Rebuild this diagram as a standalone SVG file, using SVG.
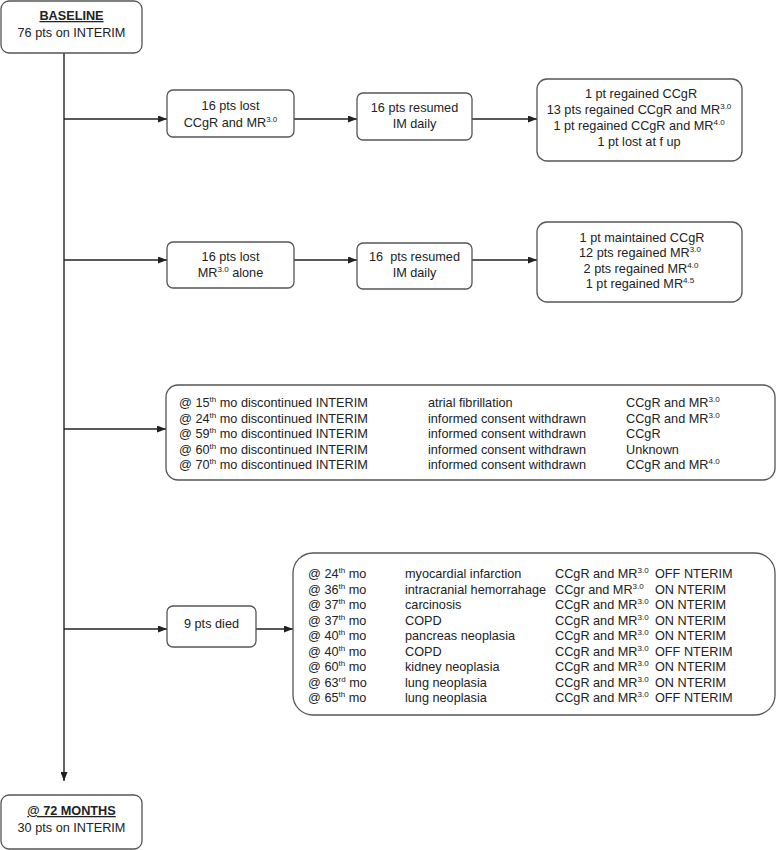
<svg xmlns="http://www.w3.org/2000/svg" width="778" height="850" viewBox="0 0 778 850">
<defs>
<style>
.box{fill:#fff;stroke:#555;stroke-width:1.3}
.t{font-family:"Liberation Sans",Arial,sans-serif;font-size:12.7px;fill:#222}
.c{text-anchor:middle}
.b{font-weight:bold;text-decoration:underline}
.s{font-size:8px}
.ln{stroke:#222;stroke-width:1.4;fill:none}
</style>
<marker id="ah" markerUnits="userSpaceOnUse" markerWidth="9" markerHeight="7" refX="9" refY="3.5" orient="auto">
<path d="M0,0 L9,3.5 L0,7 z" fill="#222"/>
</marker>
</defs>
<rect width="778" height="850" fill="#fff"/>

<g id="connectors">
<line class="ln" x1="64" y1="53" x2="64" y2="781" marker-end="url(#ah)"/>
<line class="ln" x1="64" y1="119" x2="167" y2="119" marker-end="url(#ah)"/>
<line class="ln" x1="294" y1="119" x2="357" y2="119" marker-end="url(#ah)"/>
<line class="ln" x1="472" y1="119" x2="537" y2="119" marker-end="url(#ah)"/>
<line class="ln" x1="64" y1="260" x2="167" y2="260" marker-end="url(#ah)"/>
<line class="ln" x1="294" y1="260" x2="357" y2="260" marker-end="url(#ah)"/>
<line class="ln" x1="472" y1="260" x2="537" y2="260" marker-end="url(#ah)"/>
<line class="ln" x1="64" y1="429" x2="166" y2="429" marker-end="url(#ah)"/>
<line class="ln" x1="64" y1="629" x2="167" y2="629" marker-end="url(#ah)"/>
<line class="ln" x1="256" y1="629" x2="293" y2="629" marker-end="url(#ah)"/>
</g>

<g id="baseline">
<rect class="box" x="1" y="1" width="141" height="52" rx="8"/>
<text class="t c b" x="71.5" y="20">BASELINE</text>
<text class="t c" x="71.5" y="37">76 pts on INTERIM</text>
</g>

<g id="lost-ccgr">
<rect class="box" x="167" y="90" width="127" height="47" rx="6"/>
<text class="t c" x="230.5" y="110">16 pts lost</text>
<text class="t c" x="230.5" y="127">CCgR and MR<tspan class="s" dy="-5">3.0</tspan></text>
</g>

<g id="resumed-1">
<rect class="box" x="357" y="93" width="115" height="47" rx="6"/>
<text class="t c" x="414.5" y="112">16 pts resumed</text>
<text class="t c" x="414.5" y="128">IM daily</text>
</g>

<g id="outcome-1">
<rect class="box" x="537" y="79" width="205" height="82" rx="10"/>
<text class="t c" x="641" y="98">1 pt regained CCgR</text>
<text class="t c" x="639" y="114">13 pts regained CCgR and MR<tspan class="s" dy="-5">3.0</tspan></text>
<text class="t c" x="639" y="130">1 pt regained CCgR and MR<tspan class="s" dy="-5">4.0</tspan></text>
<text class="t c" x="639" y="146">1 pt lost at f up</text>
</g>

<g id="lost-mr">
<rect class="box" x="167" y="242" width="127" height="46" rx="6"/>
<text class="t c" x="230.5" y="261">16 pts lost</text>
<text class="t c" x="230.5" y="277">MR<tspan class="s" dy="-5">3.0</tspan><tspan dy="5"> alone</tspan></text>
</g>

<g id="resumed-2">
<rect class="box" x="357" y="243" width="115" height="46" rx="6"/>
<text class="t c" x="414.5" y="261" xml:space="preserve">16  pts resumed</text>
<text class="t c" x="414.5" y="277">IM daily</text>
</g>

<g id="outcome-2">
<rect class="box" x="537" y="222" width="205" height="80" rx="10"/>
<text class="t c" x="642" y="242">1 pt maintained CCgR</text>
<text class="t c" x="640" y="257">12 pts regained MR<tspan class="s" dy="-5">3.0</tspan></text>
<text class="t c" x="641" y="273">2 pts regained MR<tspan class="s" dy="-5">4.0</tspan></text>
<text class="t c" x="640" y="288">1 pt regained MR<tspan class="s" dy="-5">4.5</tspan></text>
</g>

<g id="discontinued">
<rect class="box" x="166" y="385" width="609" height="95" rx="12"/>
<text class="t" x="179" y="407">@ 15<tspan class="s" dy="-5">th</tspan><tspan dy="5"> mo discontinued INTERIM</tspan></text>
<text class="t" x="179" y="422.5">@ 24<tspan class="s" dy="-5">th</tspan><tspan dy="5"> mo discontinued INTERIM</tspan></text>
<text class="t" x="179" y="438">@ 59<tspan class="s" dy="-5">th</tspan><tspan dy="5"> mo discontinued INTERIM</tspan></text>
<text class="t" x="179" y="453.5">@ 60<tspan class="s" dy="-5">th</tspan><tspan dy="5"> mo discontinued INTERIM</tspan></text>
<text class="t" x="179" y="469">@ 70<tspan class="s" dy="-5">th</tspan><tspan dy="5"> mo discontinued INTERIM</tspan></text>
<text class="t" x="428" y="407">atrial fibrillation</text>
<text class="t" x="428" y="422.5">informed consent withdrawn</text>
<text class="t" x="428" y="438">informed consent withdrawn</text>
<text class="t" x="428" y="453.5">informed consent withdrawn</text>
<text class="t" x="428" y="469">informed consent withdrawn</text>
<text class="t" x="626" y="407">CCgR and MR<tspan class="s" dy="-5">3.0</tspan></text>
<text class="t" x="626" y="422.5">CCgR and MR<tspan class="s" dy="-5">3.0</tspan></text>
<text class="t" x="626" y="438">CCgR</text>
<text class="t" x="626" y="453.5">Unknown</text>
<text class="t" x="626" y="469">CCgR and MR<tspan class="s" dy="-5">4.0</tspan></text>
</g>

<g id="died">
<rect class="box" x="167" y="606" width="89" height="41" rx="6"/>
<text class="t c" x="211.5" y="628">9 pts died</text>
</g>

<g id="deaths">
<rect class="box" x="293" y="553" width="482" height="162" rx="20"/>
<text class="t" x="308" y="578">@ 24<tspan class="s" dy="-5">th</tspan><tspan dy="5"> mo</tspan></text>
<text class="t" x="308" y="593.5">@ 36<tspan class="s" dy="-5">th</tspan><tspan dy="5"> mo</tspan></text>
<text class="t" x="308" y="609">@ 37<tspan class="s" dy="-5">th</tspan><tspan dy="5"> mo</tspan></text>
<text class="t" x="308" y="624.5">@ 37<tspan class="s" dy="-5">th</tspan><tspan dy="5"> mo</tspan></text>
<text class="t" x="308" y="640">@ 40<tspan class="s" dy="-5">th</tspan><tspan dy="5"> mo</tspan></text>
<text class="t" x="308" y="655.5">@ 40<tspan class="s" dy="-5">th</tspan><tspan dy="5"> mo</tspan></text>
<text class="t" x="308" y="671">@ 60<tspan class="s" dy="-5">th</tspan><tspan dy="5"> mo</tspan></text>
<text class="t" x="308" y="686.5">@ 63<tspan class="s" dy="-5">rd</tspan><tspan dy="5"> mo</tspan></text>
<text class="t" x="308" y="702">@ 65<tspan class="s" dy="-5">th</tspan><tspan dy="5"> mo</tspan></text>
<text class="t" x="405" y="578">myocardial infarction</text>
<text class="t" x="405" y="593.5">intracranial hemorrahage</text>
<text class="t" x="405" y="609">carcinosis</text>
<text class="t" x="405" y="624.5">COPD</text>
<text class="t" x="405" y="640">pancreas neoplasia</text>
<text class="t" x="405" y="655.5">COPD</text>
<text class="t" x="405" y="671">kidney neoplasia</text>
<text class="t" x="405" y="686.5">lung neoplasia</text>
<text class="t" x="405" y="702">lung neoplasia</text>
<text class="t" x="555" y="578">CCgR and MR<tspan class="s" dy="-5">3.0</tspan></text>
<text class="t" x="555" y="593.5">CCgr and MR<tspan class="s" dy="-5">3.0</tspan></text>
<text class="t" x="555" y="609">CCgR and MR<tspan class="s" dy="-5">3.0</tspan></text>
<text class="t" x="555" y="624.5">CCgR and MR<tspan class="s" dy="-5">3.0</tspan></text>
<text class="t" x="555" y="640">CCgR and MR<tspan class="s" dy="-5">3.0</tspan></text>
<text class="t" x="555" y="655.5">CCgR and MR<tspan class="s" dy="-5">3.0</tspan></text>
<text class="t" x="555" y="671">CCgR and MR<tspan class="s" dy="-5">3.0</tspan></text>
<text class="t" x="555" y="686.5">CCgR and MR<tspan class="s" dy="-5">3.0</tspan></text>
<text class="t" x="555" y="702">CCgR and MR<tspan class="s" dy="-5">3.0</tspan></text>
<text class="t" x="655" y="578">OFF NTERIM</text>
<text class="t" x="655" y="593.5">ON NTERIM</text>
<text class="t" x="655" y="609">ON NTERIM</text>
<text class="t" x="655" y="624.5">ON NTERIM</text>
<text class="t" x="655" y="640">ON NTERIM</text>
<text class="t" x="655" y="655.5">OFF NTERIM</text>
<text class="t" x="655" y="671">ON NTERIM</text>
<text class="t" x="655" y="686.5">ON NTERIM</text>
<text class="t" x="655" y="702">OFF NTERIM</text>
</g>

<g id="month72">
<rect class="box" x="1" y="795" width="141" height="54" rx="8"/>
<text class="t c b" x="71.5" y="815">@ 72 MONTHS</text>
<text class="t c" x="71.5" y="832">30 pts on INTERIM</text>
</g>
</svg>
